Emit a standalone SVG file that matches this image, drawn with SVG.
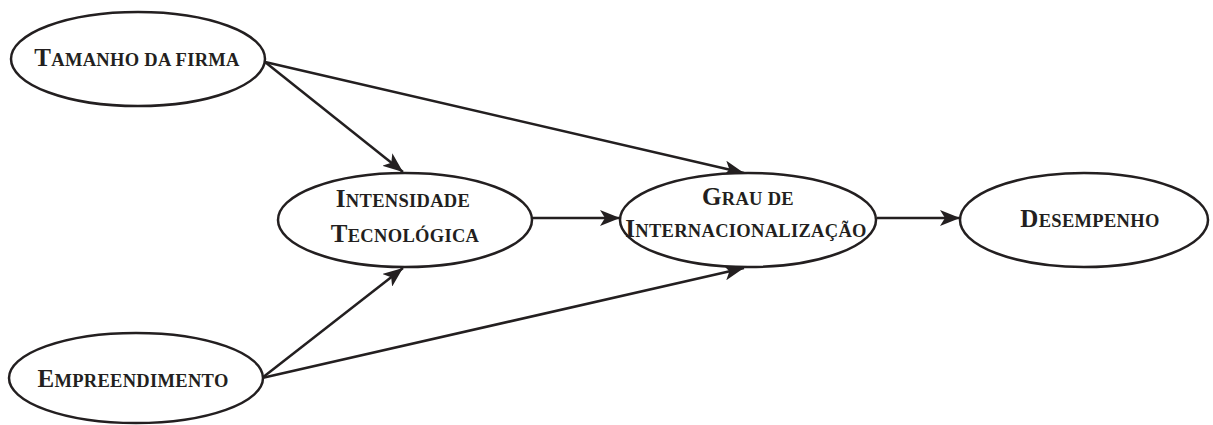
<svg xmlns="http://www.w3.org/2000/svg" width="1213" height="425" viewBox="0 0 1213 425">
<style>
.n{fill:#fff;stroke:#231f20;stroke-width:2.5}
.t{font-family:"Liberation Serif","Times New Roman",serif;font-weight:bold;fill:#231f20;text-anchor:middle;font-size:18.5px;letter-spacing:0.3px}
.b{font-size:25px}
.c{stroke:#231f20;stroke-width:2.5;fill:none;marker-end:url(#ah)}
</style>
<defs>
<marker id="ah" markerUnits="userSpaceOnUse" markerWidth="24" markerHeight="16" refX="20" refY="8" orient="auto">
<path d="M0,0 L20,8 L0,16 L5,8 Z" fill="#231f20"/>
</marker>
</defs>
<g id="connectors">
<line class="c" x1="265" y1="62" x2="403" y2="172"/>
<line class="c" x1="265" y1="62" x2="744" y2="173"/>
<line class="c" x1="532" y1="218" x2="620" y2="218"/>
<line class="c" x1="877" y1="218" x2="960" y2="218"/>
<line class="c" x1="262" y1="378" x2="403" y2="268"/>
<line class="c" x1="262" y1="378" x2="744" y2="268"/>
</g>
<g id="tamanho">
<ellipse class="n" cx="138" cy="59" rx="127" ry="47"/>
<text class="t" x="137" y="66"><tspan class="b">T</tspan>AMANHO DA FIRMA</text>
</g>
<g id="intensidade">
<ellipse class="n" cx="405" cy="220" rx="127" ry="47"/>
<text class="t" x="403" y="207"><tspan class="b">I</tspan>NTENSIDADE</text>
<text class="t" x="405" y="242"><tspan class="b">T</tspan>ECNOLÓGICA</text>
</g>
<g id="grau">
<ellipse class="n" cx="748" cy="220" rx="128" ry="47"/>
<text class="t" x="748" y="205"><tspan class="b">G</tspan>RAU DE</text>
<text class="t" x="746" y="237"><tspan class="b">I</tspan>NTERNACIONALIZAÇÃO</text>
</g>
<g id="desempenho">
<ellipse class="n" cx="1084" cy="220" rx="124" ry="47"/>
<text class="t" x="1090" y="227"><tspan class="b">D</tspan>ESEMPENHO</text>
</g>
<g id="empreendimento">
<ellipse class="n" cx="136" cy="378" rx="127" ry="45"/>
<text class="t" x="133" y="387"><tspan class="b">E</tspan>MPREENDIMENTO</text>
</g>
</svg>
